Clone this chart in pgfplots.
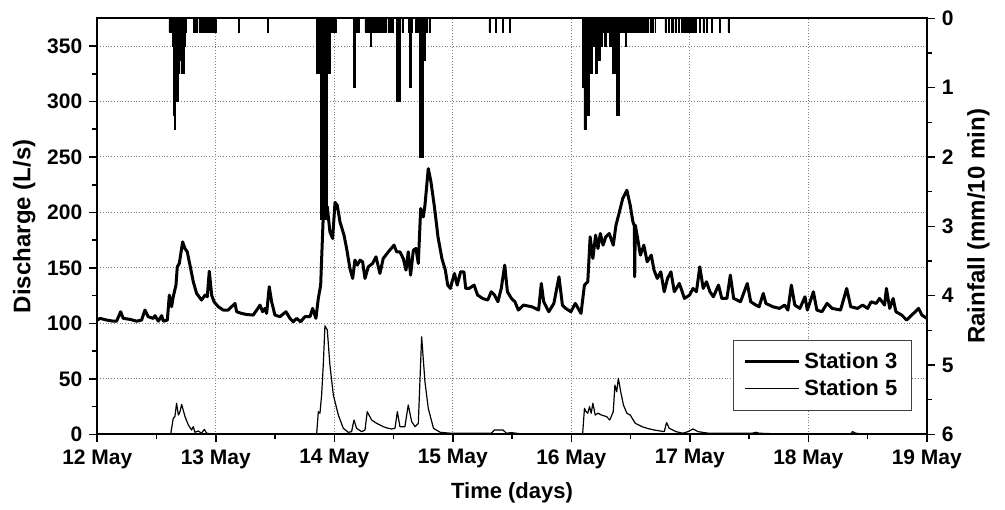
\documentclass[border=0pt]{standalone}
\usepackage{fontspec}
\setmainfont{Liberation Sans}
\usepackage{pgfplots}
\pgfplotsset{compat=1.18}
\begin{document}
\begin{tikzpicture}
\pgfplotsset{
  common/.style={
    scale only axis, width=414.75pt, height=208pt,
    xmin=0, xmax=7,
    font=\fontsize{10.5}{12}\selectfont\bfseries,
    tick label style={font=\fontsize{10.5}{12}\selectfont\bfseries},
    xlabel style={font=\fontsize{11}{12}\selectfont\bfseries},
    ylabel style={font=\fontsize{12}{13}\selectfont\bfseries},
    /pgf/number format/assume math mode=true,
    tick align=outside,
    major tick length=4pt, minor tick length=2.5pt,
    every tick/.style={black, line width=0.8pt},
    axis line style={line width=1pt},
  }
}
\begin{axis}[common, name=main,
  ymin=0, ymax=375,
  xtick={0,1,2,3,4,5,6,7},
  xticklabels={12 May,13 May,14 May,15 May,16 May,17 May,18 May,19 May},
  minor x tick num=1,
  ytick={0,50,100,150,200,250,300,350},
  minor y tick num=1,
  xtick pos=bottom, ytick pos=left,
  grid=major, major grid style={densely dotted, gray, line width=0.5pt},
  xlabel={Time (days)}, ylabel={Discharge (L/s)},
  ylabel style={yshift=-1pt},
  legend style={at={(0.982,0.227)}, anchor=north east, draw=black!75, line width=0.6pt,
    font=\fontsize{11}{13.5}\selectfont\bfseries, cells={anchor=west},
    inner xsep=5pt, inner ysep=4pt},
  legend image code/.code={\draw[#1] (0cm,0cm) -- (0.95cm,0cm);},
]
\addplot[black, line width=1.5pt, line join=round] coordinates {
(0.000,103) (0.023,104.5) (0.079,103) (0.135,102) (0.163,102) (0.197,110.5) (0.219,104.5)
(0.276,103.6) (0.332,102) (0.374,103) (0.402,112) (0.430,106) (0.473,104.5) (0.487,107)
(0.515,102) (0.543,107) (0.557,102) (0.591,103) (0.608,125.5) (0.627,115) (0.641,124)
(0.664,134.5) (0.675,151) (0.692,154) (0.720,173.5) (0.740,167.5) (0.759,164.5) (0.782,152.5)
(0.810,137.5) (0.838,127) (0.880,121) (0.909,125.5) (0.928,124) (0.945,147) (0.965,125.5)
(0.985,119.5) (1.021,115) (1.063,112) (1.105,112) (1.162,118) (1.176,110.5) (1.218,109)
(1.260,108) (1.316,107.5) (1.345,112) (1.373,116.5) (1.395,110.5) (1.415,113.5) (1.429,109)
(1.451,133) (1.471,119.5) (1.499,107.5) (1.541,106) (1.592,110.5) (1.626,104.5) (1.654,101.5)
(1.682,104.5) (1.716,101.5) (1.752,106) (1.795,106) (1.817,113.5) (1.845,104.5) (1.865,122.5)
(1.885,134.5) (1.907,197.5) (1.921,206.5) (1.941,205) (1.963,182.5) (1.986,176.5) (2.006,209)
(2.025,206.5) (2.048,191.5) (2.082,179.5) (2.104,167.5) (2.132,149.5) (2.155,140.5) (2.174,157)
(2.194,152.5) (2.217,157) (2.239,155.5) (2.259,140.5) (2.287,151) (2.323,154) (2.352,160)
(2.385,145) (2.413,158.5) (2.456,164.5) (2.504,170.5) (2.526,164.5) (2.554,164.5) (2.582,158.5)
(2.605,148) (2.624,164.5) (2.644,143.5) (2.667,166) (2.689,167.5) (2.709,154) (2.729,203.5)
(2.751,196) (2.765,206.5) (2.793,239.5) (2.815,228) (2.845,205) (2.875,178) (2.908,158.5)
(2.937,148) (2.957,134.5) (2.980,131.5) (2.994,137.5) (3.014,145) (3.037,134.5) (3.066,146.5)
(3.094,146.5) (3.109,131.5) (3.137,131.5) (3.180,134.5) (3.209,125.5) (3.252,122.5) (3.295,121)
(3.324,128.5) (3.352,125.5) (3.381,119.5) (3.409,131.5) (3.438,152.5) (3.461,128.5) (3.495,122.5)
(3.524,119.5) (3.553,112) (3.595,116.5) (3.667,115) (3.724,112) (3.747,136) (3.767,119.5)
(3.810,110.5) (3.853,118) (3.896,142) (3.925,116.5) (3.953,113.5) (3.996,110.5) (4.034,118)
(4.082,109) (4.111,134.5) (4.139,137.5) (4.159,178) (4.182,158.5) (4.205,179.5) (4.225,167.5)
(4.245,181) (4.268,170.5) (4.291,178) (4.320,181) (4.354,170.5) (4.377,188.5) (4.406,200.5)
(4.434,212.5) (4.469,220) (4.497,206.5) (4.520,191.5) (4.532,188) (4.535,142) (4.540,188.5)
(4.560,176.5) (4.583,161.5) (4.612,170.5) (4.640,155.5) (4.675,161.5) (4.698,148) (4.726,140.5)
(4.755,146.5) (4.784,128.5) (4.812,140.5) (4.841,146.5) (4.869,128.5) (4.912,136) (4.955,122.5)
(4.998,125.5) (5.027,131.5) (5.056,128.5) (5.084,151) (5.113,131.5) (5.141,137.5) (5.170,128.5)
(5.199,124) (5.242,134.5) (5.270,122.5) (5.313,122.5) (5.342,143.5) (5.370,122.5) (5.428,119.5)
(5.485,136) (5.514,119.5) (5.557,116.5) (5.585,115) (5.620,127) (5.642,118) (5.700,115)
(5.757,113.5) (5.800,116.5) (5.828,112) (5.857,134.5) (5.886,116.5) (5.929,113.5) (5.972,124)
(5.992,112) (6.043,128.5) (6.072,112) (6.115,110.5) (6.158,118) (6.201,113.5) (6.272,112)
(6.324,131.5) (6.358,115) (6.415,113.5) (6.458,116.5) (6.501,113.5) (6.530,119.5) (6.573,118)
(6.601,122.5) (6.644,116.5) (6.659,131.5) (6.687,113.5) (6.716,122.5) (6.739,110.5) (6.788,107.5)
(6.830,103) (6.873,107.5) (6.931,113.5) (6.959,107.5) (7.000,104.5)
};
\addlegendentry{Station 3}
\addplot[black, line width=0.6pt, line join=round] coordinates {
(0.000,0) (0.619,0) (0.641,14.4) (0.655,16) (0.669,28) (0.684,17.4) (0.698,20.4) (0.712,27)
(0.740,16) (0.768,8.4) (0.796,3.9) (0.810,6.9) (0.824,1.8) (0.852,3) (0.880,1) (0.903,4.5)
(0.923,1) (0.979,0) (1.851,0) (1.865,20.4) (1.879,19) (1.893,35.4) (1.907,62.4) (1.921,97.8)
(1.941,94) (1.963,62.4) (1.992,35.4) (2.034,17.4) (2.076,5.4) (2.118,1.8) (2.146,2.4)
(2.166,12.9) (2.188,5.4) (2.231,2.4) (2.259,3.9) (2.278,20.4) (2.315,12.9) (2.357,9.9)
(2.413,6.9) (2.456,5.4) (2.484,4.8) (2.512,5.4) (2.532,20.4) (2.554,6.9) (2.596,6.9)
(2.624,26.4) (2.653,11.4) (2.681,6.9) (2.709,9.9) (2.737,87.9) (2.765,47.4) (2.793,23.4)
(2.837,5.4) (2.894,1.8) (2.980,1) (3.324,1) (3.352,3.9) (3.424,3.9) (3.452,1) (3.495,1.5)
(3.610,0) (4.082,0) (4.096,1) (4.111,23.4) (4.125,20.4) (4.139,19) (4.154,25) (4.168,19)
(4.182,28) (4.202,17.4) (4.225,19) (4.254,17.4) (4.297,16) (4.325,12.9) (4.354,20.4)
(4.368,44.4) (4.383,38.4) (4.397,50.4) (4.417,38.4) (4.440,26.4) (4.469,19) (4.497,17.4)
(4.540,9.9) (4.597,6.9) (4.640,5.4) (4.698,3.9) (4.784,2.4) (4.804,10.5) (4.827,5.4)
(4.884,2.4) (4.941,1) (4.984,2.4) (5.027,4.8) (5.070,2.4) (5.156,1) (5.528,1) (5.557,1.8)
(5.585,1) (5.757,0.3) (6.358,0.3) (6.373,2.4) (6.401,1) (6.473,0) (7.000,0)
};
\addlegendentry{Station 5}
\end{axis}
\begin{axis}[common,
  ymin=0, ymax=6, y dir=reverse,
  axis x line=none, axis y line*=right,
  ytick={0,1,2,3,4,5,6}, minor y tick num=1,
  ylabel={Rainfall (mm/10 min)},
]
\addplot[const plot, fill=black, draw=black, line width=0.3pt] coordinates {
(0.000,0)
(0.600,0) (0.605,0.2) (0.633,0.4) (0.641,1.4) (0.650,1.6) (0.658,1.2) (0.681,0.8) (0.692,0.6)
(0.706,0.8) (0.734,0.4) (0.746,0.2) (0.754,0)
(0.814,0.2) (0.824,0) (0.835,0.2) (0.845,0) (0.858,0.2) (0.868,0) (0.878,0.2) (1.008,0)
(1.190,0.2) (1.200,0) (1.435,0.2) (1.445,0)
(1.845,0) (1.851,0.8) (1.885,2.9) (1.939,0.8) (1.964,0) (1.978,0.2) (2.014,0)
(2.160,1.0) (2.181,0.2) (2.208,0)
(2.259,0.2) (2.302,0.4) (2.312,0.2) (2.428,0)
(2.433,0.2) (2.441,0) (2.452,0.2) (2.460,0) (2.472,0.2) (2.480,0) (2.489,0.2) (2.497,0)
(2.521,0.2) (2.527,1.2) (2.554,0)
(2.571,0.2) (2.580,0)
(2.625,0.2) (2.633,1.0) (2.653,0.2) (2.661,0)
(2.687,0.2) (2.717,2.0) (2.751,0.6) (2.770,0.2) (2.785,0)
(2.798,0.2) (2.808,0)
(3.304,0.2) (3.314,0) (3.361,0.2) (3.371,0) (3.417,0.2) (3.427,0) (3.479,0.2) (3.489,0)
(4.090,0) (4.096,1.0) (4.107,1.6) (4.130,1.4) (4.152,0.4) (4.158,0.8) (4.177,0.4) (4.200,0.8)
(4.219,0.6) (4.248,0.4) (4.265,0.2) (4.282,0.4) (4.299,0.2) (4.320,0.4) (4.335,0.2) (4.349,0.8)
(4.383,1.4) (4.405,0.2) (4.455,0.4) (4.465,0.2) (4.636,0)
(4.641,0.2) (4.648,0) (4.664,0.2) (4.671,0) (4.687,0.2) (4.694,0) (4.706,0.2) (4.713,0)
(4.790,0.2) (4.803,0) (4.818,0.2) (4.830,0) (4.847,0.2) (4.859,0) (4.875,0.2) (4.887,0)
(4.903,0.2) (4.915,0) (4.932,0.2) (5.058,0)
(5.083,0.2) (5.091,0) (5.111,0.2) (5.119,0) (5.140,0.2) (5.148,0) (5.180,0.2) (5.190,0)
(5.251,0.2) (5.260,0) (5.321,0.2) (5.330,0) (7.000,0)
} \closedcycle;
\end{axis}
\path ([xshift=-48.65pt,yshift=-37.25pt]main.south west) rectangle ([xshift=39.1pt,yshift=9.15pt]main.north east);
\end{tikzpicture}
\end{document}
